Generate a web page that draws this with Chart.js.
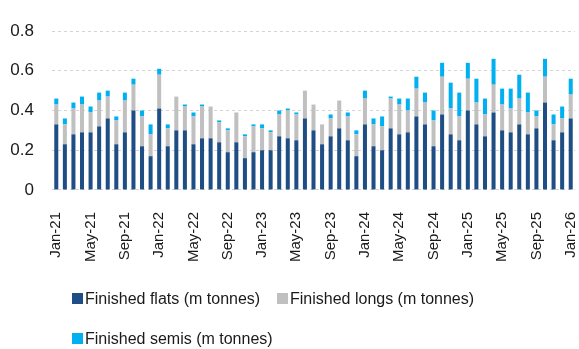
<!DOCTYPE html>
<html>
<head>
<meta charset="utf-8">
<script src="https://cdn.jsdelivr.net/npm/chart.js@4/dist/chart.umd.min.js"></script>
<style>
  html, body { margin: 0; padding: 0; background: #fff; }
  #wrap { width: 579px; height: 349px; position: relative; }
</style>
</head>
<body>
<div id="wrap"><canvas id="c"></canvas></div>
<script>
// Monthly categories, Jan-21 .. Jan-26
const monthNames = ['Jan','Feb','Mar','Apr','May','Jun','Jul','Aug','Sep','Oct','Nov','Dec'];
const categories = [];
for (let y = 21; y <= 26; y++) {
  for (let m = 0; m < 12; m++) {
    if (y === 26 && m > 0) break;
    categories.push(monthNames[m] + '-' + y);
  }
}

// Finished flats (m tonnes)
const flats = [
  0.33, 0.23, 0.28, 0.29, 0.29, 0.32, 0.36, 0.23, 0.29, 0.40, 0.22, 0.17,
  0.41, 0.22, 0.30, 0.30, 0.23, 0.26, 0.26, 0.24, 0.19, 0.24, 0.16, 0.19,
  0.20, 0.20, 0.27, 0.26, 0.25, 0.36, 0.30, 0.23, 0.27, 0.31, 0.25, 0.17,
  0.33, 0.22, 0.20, 0.31, 0.28, 0.29, 0.37, 0.33, 0.22, 0.38, 0.28, 0.25,
  0.40, 0.33, 0.27, 0.39, 0.30, 0.29, 0.33, 0.28, 0.31, 0.44, 0.25, 0.29,
  0.36
];

// Finished longs (m tonnes)
const longs = [
  0.10, 0.10, 0.13, 0.14, 0.10, 0.13, 0.11, 0.12, 0.16, 0.13, 0.15, 0.11,
  0.17, 0.09, 0.17, 0.12, 0.14, 0.16, 0.16, 0.10, 0.11, 0.15, 0.11, 0.13,
  0.11, 0.09, 0.11, 0.14, 0.13, 0.14, 0.13, 0.10, 0.09, 0.14, 0.12, 0.11,
  0.13, 0.11, 0.12, 0.15, 0.15, 0.11, 0.14, 0.11, 0.13, 0.19, 0.13, 0.12,
  0.16, 0.11, 0.11, 0.14, 0.13, 0.12, 0.13, 0.11, 0.06, 0.13, 0.08, 0.07,
  0.12
];

// Finished semis (m tonnes)
const semis = [
  0.03, 0.03, 0.03, 0.04, 0.03, 0.04, 0.03, 0.02, 0.04, 0.03, 0.03, 0.05,
  0.03, 0.02, 0.00, 0.01, 0.02, 0.01, 0.00, 0.01, 0.01, 0.00, 0.01, 0.01,
  0.02, 0.01, 0.02, 0.01, 0.01, 0.00, 0.00, 0.00, 0.02, 0.00, 0.02, 0.02,
  0.04, 0.03, 0.05, 0.01, 0.03, 0.06, 0.06, 0.05, 0.05, 0.07, 0.13, 0.12,
  0.08, 0.12, 0.08, 0.13, 0.08, 0.10, 0.12, 0.10, 0.03, 0.09, 0.05, 0.06,
  0.08
];

// Y axis tick values
const yTicks = [0, 0.2, 0.4, 0.6, 0.8];

const seriesLabels = ['Finished flats (m tonnes)', 'Finished longs (m tonnes)', 'Finished semis (m tonnes)'];
const seriesColors = ['#1f4e85', '#c0c0c0', '#00b0f0'];

// Legend drawn as two left-aligned rows beneath the axis labels
const bottomLegend = {
  id: 'bottomLegend',
  afterDraw(chart) {
    const ctx = chart.ctx;
    const ds = chart.data.datasets;
    const slots = [
      { x: 72, y: 298.5 },
      { x: 277, y: 298.5 },
      { x: 72, y: 338.5 }
    ];
    ctx.save();
    ctx.font = '16px "Liberation Sans", Arial, sans-serif';
    ctx.textBaseline = 'middle';
    ctx.textAlign = 'left';
    ds.forEach((d, i) => {
      const s = slots[i];
      ctx.fillStyle = d.backgroundColor;
      ctx.fillRect(s.x, s.y - 5.5, 11, 11);
      ctx.fillStyle = '#1a1a1a';
      ctx.fillText(d.label, s.x + 13, s.y + 1);
    });
    ctx.restore();
  }
};

new Chart(document.getElementById('c'), {
  type: 'bar',
  data: {
    labels: categories,
    datasets: [
      { label: seriesLabels[0], data: flats, backgroundColor: seriesColors[0] },
      { label: seriesLabels[1], data: longs, backgroundColor: seriesColors[1] },
      { label: seriesLabels[2], data: semis, backgroundColor: seriesColors[2] }
    ]
  },
  options: {
    responsive: true,
    maintainAspectRatio: false,
    animation: false,
    layout: { padding: { top: 31, right: 4, bottom: 73, left: 10 } },
    datasets: {
      bar: { barPercentage: 0.47, categoryPercentage: 1.0, borderWidth: 0 }
    },
    scales: {
      x: {
        stacked: true,
        grid: { display: false },
        border: { display: false },
        afterFit: (scale) => { scale.paddingLeft = 0; scale.paddingRight = 0; },
        ticks: {
          autoSkip: false,
          maxRotation: 90,
          minRotation: 90,
          padding: 14,
          color: '#1a1a1a',
          font: { family: '"Liberation Sans", Arial, sans-serif', size: 15 },
          callback: function (v, i) { return i % 4 === 0 ? categories[i] : ''; }
        }
      },
      y: {
        stacked: true,
        min: 0,
        max: 0.8,
        afterBuildTicks: (axis) => { axis.ticks = yTicks.map(v => ({ value: v })); },
        afterFit: (scale) => { scale.width = 42; },
        grid: {
          color: '#d4d4d4',
          lineWidth: 1,
          drawTicks: false
        },
        border: { display: false, dash: [3, 3] },
        ticks: {
          padding: 18,
          color: '#1a1a1a',
          font: { family: '"Liberation Sans", Arial, sans-serif', size: 17 },
          callback: (v) => String(Math.round(v * 10) / 10)
        }
      }
    },
    plugins: {
      legend: { display: false },
      tooltip: { enabled: false }
    }
  },
  plugins: [bottomLegend]
});
</script>
</body>
</html>
